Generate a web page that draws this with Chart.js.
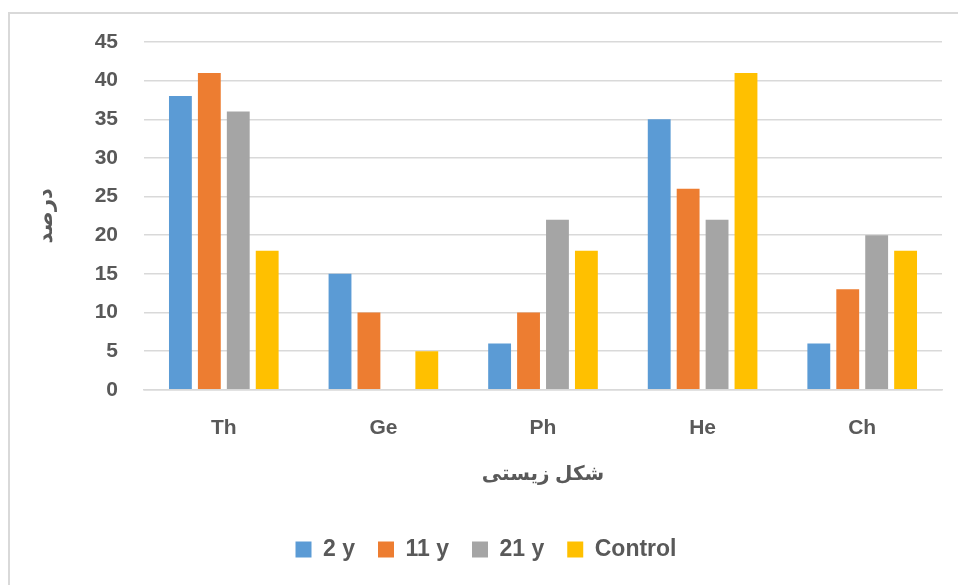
<!DOCTYPE html>
<html>
<head>
<meta charset="utf-8">
<script src="https://cdn.jsdelivr.net/npm/chart.js@4"></script>
<style>
  html, body { margin: 0; padding: 0; background: #ffffff; }
  #marco {
    position: absolute; left: 8px; top: 12px; width: 960px; height: 590px;
    border: 2px solid #d9d9d9; box-sizing: border-box;
  }
  #lienzo { position: absolute; left: 0; top: 0; }
</style>
</head>
<body>
<div id="marco"></div>
<canvas id="lienzo" width="958" height="585"></canvas>
<script>
// Datos del gráfico
const categorias = ["Th", "Ge", "Ph", "He", "Ch"];
const serie2y = [38, 15, 6, 35, 6];
const serie11y = [41, 10, 10, 26, 13];
const serie21y = [36, 0, 22, 22, 20];
const serieControl = [18, 5, 18, 41, 18];
const nombresSeries = ["2 y", "11 y", "21 y", "Control"];
const colores = ["#5b9bd5", "#ed7d31", "#a5a5a5", "#ffc000"];

const textColor = "#595959";
const gridColor = "#d9d9d9";
const fuente = "'Liberation Sans', 'DejaVu Sans', sans-serif";

const valores = [serie2y, serie11y, serie21y, serieControl];

new Chart(document.getElementById("lienzo"), {
  type: "bar",
  data: {
    labels: categorias,
    datasets: nombresSeries.map((nombre, i) => ({
      label: nombre,
      data: valores[i],
      backgroundColor: colores[i],
      borderWidth: 0,
      categoryPercentage: 0.725,
      barPercentage: 0.79,
    })),
  },
  options: {
    responsive: false,
    animation: false,
    layout: { padding: { top: 42, right: 16, left: 30, bottom: 14 } },
    plugins: {
      tooltip: { enabled: false },
      legend: {
        position: "bottom",
        labels: {
          color: textColor,
          boxWidth: 16,
          boxHeight: 16,
          padding: 23,
          font: { family: fuente, size: 23, weight: "bold" },
        },
      },
    },
    scales: {
      y: {
        min: 0,
        max: 45,
        ticks: {
          stepSize: 5,
          color: textColor,
          padding: 26,
          font: { family: fuente, size: 21, weight: "bold" },
        },
        grid: { color: gridColor, lineWidth: 1.5, drawTicks: false },
        border: { display: false },
        title: {
          display: true,
          text: "درصد",
          color: textColor,
          font: { family: fuente, size: 21, weight: "bold" },
        },
        afterFit: function (scale) { scale.width = 114; },
      },
      x: {
        ticks: {
          color: textColor,
          padding: 26,
          font: { family: fuente, size: 21, weight: "bold" },
        },
        grid: { display: false, drawTicks: false },
        border: { color: gridColor, width: 1.5 },
        title: {
          display: true,
          text: "شکل زیستی",
          color: textColor,
          padding: { top: -5, bottom: 29 },
          font: { family: fuente, size: 20, weight: "bold" },
        },
      },
    },
  },
});
</script>
</body>
</html>
